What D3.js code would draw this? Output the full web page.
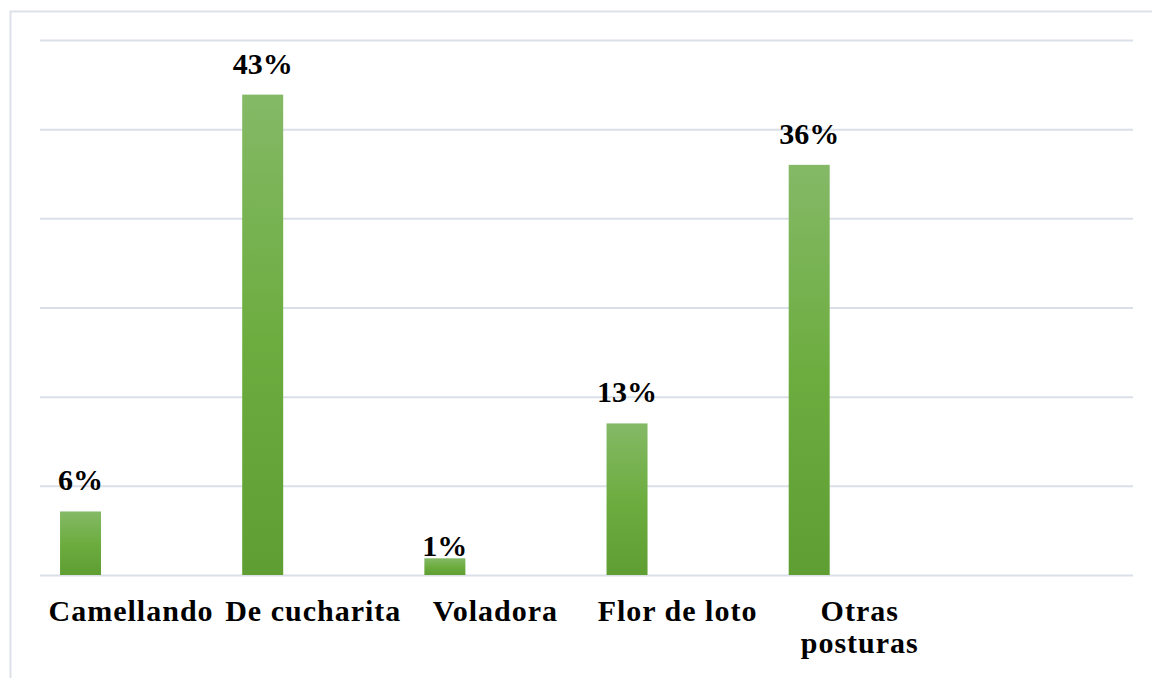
<!DOCTYPE html>
<html>
<head>
<meta charset="utf-8">
<script src="https://cdn.jsdelivr.net/npm/d3@7"></script>
<style>
  body { margin: 0; background: #fff; }
  svg { display: block; }
  .grid line { stroke: #dadfe8; stroke-width: 2; }
  .lbl { font-family: "Liberation Serif", "Times New Roman", serif; font-weight: bold; font-size: 30px; fill: #000; }
  .cat { letter-spacing: 1px; }
</style>
</head>
<body>
<svg width="1152" height="678"></svg>
<script>
// data
const categories = ["Camellando", "De cucharita", "Voladora", "Flor de loto", "Otras posturas"];
const values = [0.057, 0.431, 0.015, 0.136, 0.368];
const valueLabels = ["6%", "43%", "1%", "13%", "36%"];
const yTicks = [0, 0.08, 0.16, 0.24, 0.32, 0.40, 0.48];
const slots = 6; // the chart keeps one empty category slot at the right

const svg = d3.select("svg");
const width = 1152, height = 678;
const plot = { left: 40, right: 1133, top: 40, bottom: 575 };

// frame
svg.append("rect")
  .attr("x", 10.5).attr("y", 11.5)
  .attr("width", width).attr("height", height)
  .attr("fill", "none")
  .attr("stroke", "#dde2ea")
  .attr("stroke-width", 2);

const x = d3.scaleBand()
  .domain(d3.range(slots))
  .range([plot.left, plot.right]);

const y = d3.scaleLinear()
  .domain([0, 0.48])
  .range([plot.bottom, plot.top]);

// gradient for bars
const defs = svg.append("defs");
const grad = defs.append("linearGradient")
  .attr("id", "barGrad")
  .attr("x1", 0).attr("y1", 0).attr("x2", 0).attr("y2", 1);
grad.append("stop").attr("offset", "0%").attr("stop-color", "#84b966");
grad.append("stop").attr("offset", "50%").attr("stop-color", "#6dad40");
grad.append("stop").attr("offset", "100%").attr("stop-color", "#5e9e32");

// gridlines
const yAxis = d3.axisLeft(y)
  .tickValues(yTicks)
  .tickSize(-(plot.right - plot.left))
  .tickFormat("");

svg.append("g")
  .attr("class", "grid")
  .attr("transform", translate(plot.left, 0))
  .call(yAxis)
  .call(g => g.select(".domain").remove());

const bw = x.bandwidth();
const barOffset = bw * 0.11;
const barWidth = bw * 0.225;

// bars
svg.append("g")
  .selectAll("rect")
  .data(values)
  .join("rect")
  .attr("x", (d, i) => x(i) + barOffset)
  .attr("y", d => y(d))
  .attr("width", barWidth)
  .attr("height", d => y(0) - y(d))
  .attr("fill", "url(#barGrad)");

// value labels
svg.append("g")
  .selectAll("text")
  .data(values)
  .join("text")
  .attr("class", "lbl")
  .attr("text-anchor", "middle")
  .attr("x", (d, i) => x(i) + barOffset + barWidth / 2)
  .attr("y", d => (y(0) - y(d)) < 25 ? y(d) - 2 : y(d) - 21)
  .text((d, i) => valueLabels[i]);

// category labels
svg.append("g")
  .selectAll("text")
  .data(categories)
  .join("text")
  .attr("class", "lbl cat")
  .attr("text-anchor", "middle")
  .attr("x", (d, i) => x(i) + bw / 2)
  .attr("y", plot.bottom + 46)
  .each(function (d) { wrap(d3.select(this), d, bw); });

// utils
function wrap(text, label, maxWidth) {
  const words = label.split(" ");
  const lines = [];
  let line = [];
  const probe = text.text("");
  words.forEach(w => {
    line.push(w);
    probe.text(line.join(" "));
    if (probe.node().getComputedTextLength() > maxWidth && line.length > 1) {
      line.pop();
      lines.push(line.join(" "));
      line = [w];
    }
  });
  lines.push(line.join(" "));
  text.text("");
  const cx = text.attr("x");
  lines.forEach((l, k) => {
    text.append("tspan")
      .attr("x", cx)
      .attr("dy", k === 0 ? 0 : 32)
      .text(l);
  });
}

function translate(x, y) {
  return `translate(${x}, ${y})`;
}
</script>
</body>
</html>
